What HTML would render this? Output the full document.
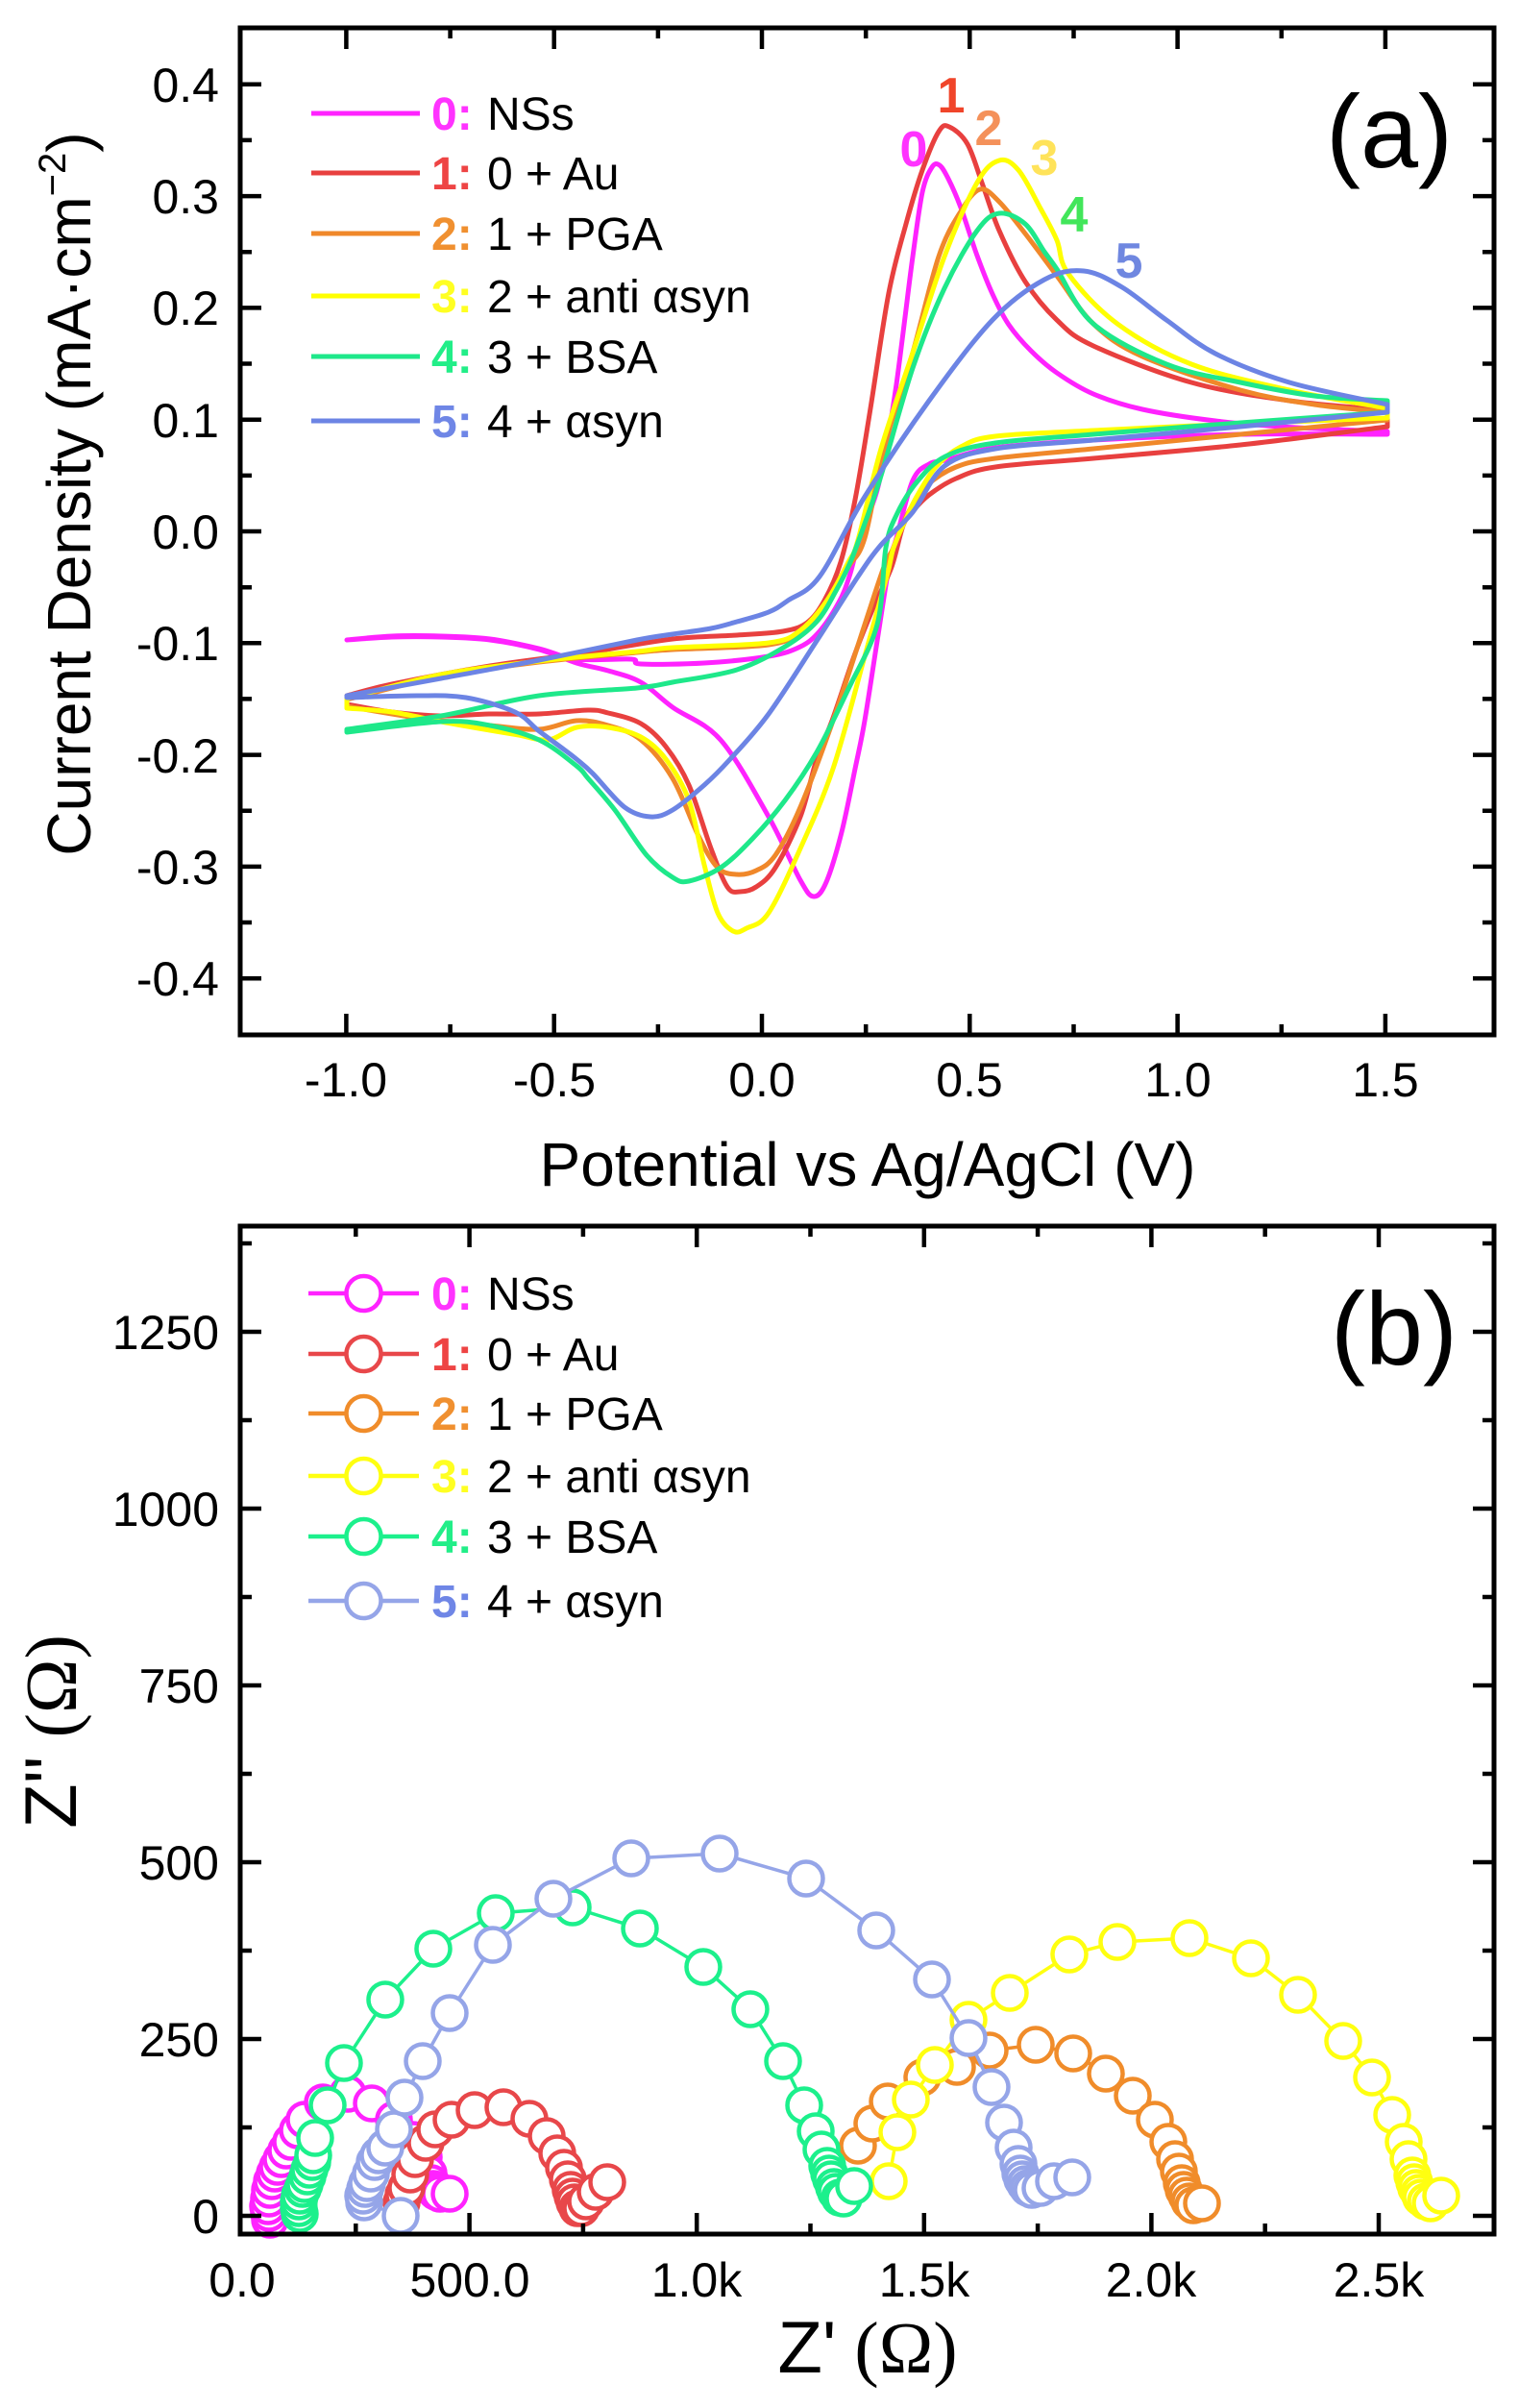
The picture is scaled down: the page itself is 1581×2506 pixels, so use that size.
<!DOCTYPE html>
<html><head><meta charset="utf-8"><style>
html,body{margin:0;padding:0;background:#fff;}
svg{display:block;}
text{font-family:"Liberation Sans",Arial,sans-serif;fill:#000;}
.tk{font-size:50px;}
.lg{font-size:48px;}
.lb{font-size:48px;font-weight:bold;}
.pk{font-size:52px;font-weight:bold;}
</style></head><body>
<svg id="fig" width="1581" height="2506" viewBox="0 0 1581 2506" xmlns="http://www.w3.org/2000/svg">
<rect width="1581" height="2506" fill="#fff"/>

<!-- ============ PANEL (a) ============ -->
<g fill="none" stroke-width="5" stroke-linejoin="round" stroke-linecap="round">
<!-- 0 magenta -->
<polyline class="sm" stroke="#ff22ff" points="361,666 408,662 459,662 510,665 561,675 600,686 657,686 667,691 733,690 800,683 833,673 853,657 873,627 884,600 895,560 913,510 925,450 933,400 942,330 950,267 960,200 970,174 978,172 987,186 1000,216 1017,266 1033,306 1050,338 1073,365 1100,388 1138,410 1189,426 1265,438 1350,445 1444,449 1444,452 1291,452 1138,458 1036,466 984,479 967,483 950,500 933,560 926,585 913,667 900,750 890,800 876,866 860,918 847,933 833,916 800,850 750,770 700,736 667,710 633,698 600,690 561,676 510,666 459,663 408,663 361,666"/>
<!-- 1 red -->
<polyline class="sm" stroke="#e8403f" points="361,724 408,712 510,693 612,679 700,665 767,661 815,657 840,648 858,625 875,585 890,520 906,425 925,305 943,233 960,177 977,137 988,132 1007,150 1023,193 1040,240 1067,293 1100,333 1138,360 1240,398 1342,417 1444,427 1444,444 1291,463 1138,477 1036,486 995,498 967,515 950,532 940,547 928,590 910,630 890,680 866,750 850,790 833,850 807,903 787,923 770,928 757,923 740,883 717,817 693,777 667,753 633,742 612,739 561,743 510,743 459,745 408,741 361,733 361,724"/>
<!-- 2 orange -->
<polyline class="sm" stroke="#f0882a" points="361,728 459,704 561,689 663,679 700,676 800,671 833,657 860,627 883,590 900,560 920,467 950,367 977,267 1000,220 1020,197 1040,210 1067,243 1100,287 1138,337 1189,371 1291,406 1368,421 1444,429 1444,437 1291,452 1138,467 1036,477 995,486 964,506 944,536 930,570 920,590 900,650 867,750 833,840 807,890 787,906 767,910 747,903 727,870 700,810 667,770 633,755 600,750 561,759 510,755 434,747 361,735 361,728"/>
<!-- 3 yellow -->
<polyline class="sm" stroke="#ffff00" points="361,727 459,702 561,688 663,678 700,674 800,669 833,656 860,626 883,585 893,562 917,467 950,367 983,267 1017,190 1040,167 1060,177 1083,217 1100,250 1112,285 1163,337 1240,379 1342,406 1444,425 1444,435 1291,441 1138,448 1036,454 1000,465 974,486 954,517 943,540 930,570 923,600 900,683 867,800 833,883 800,950 777,966 763,969 747,950 733,900 717,833 693,790 667,767 633,757 600,757 571,770 540,765 510,760 459,751 408,741 361,737 361,727"/>
<!-- 4 green -->
<polyline class="sm" stroke="#1ee88a" points="361,759 459,745 561,724 663,716 700,710 767,697 817,673 850,647 870,615 885,585 900,545 917,495 950,383 983,300 1017,240 1040,222 1067,233 1087,262 1100,280 1138,337 1214,379 1291,398 1368,412 1444,417 1444,429 1291,440 1138,452 1036,461 984,475 954,502 933,536 922,570 913,650 883,717 850,783 817,833 783,873 750,903 717,917 700,913 673,890 640,843 612,810 600,797 561,770 510,755 459,751 361,762 361,759"/>
<!-- 5 blue -->
<polyline class="sm" stroke="#6c84e4" points="361,724 459,706 561,687 663,666 700,660 740,654 767,647 800,637 820,625 853,600 900,517 967,417 1033,333 1087,291 1128,282 1168,299 1214,333 1265,368 1342,398 1444,421 1444,429 1291,444 1138,458 1036,467 983,485 950,533 917,567 893,600 850,667 800,743 760,790 733,817 700,843 677,850 650,840 617,805 600,790 587,780 560,760 536,741 485,726 434,724 361,726 361,724"/>
</g>

<!-- peak labels -->
<text class="pk" x="951" y="173" text-anchor="middle" style="fill:#ff33ff">0</text>
<text class="pk" x="990" y="117" text-anchor="middle" style="fill:#f0452a">1</text>
<text class="pk" x="1029" y="151" text-anchor="middle" style="fill:#f4915a">2</text>
<text class="pk" x="1087" y="182" text-anchor="middle" style="fill:#ffe35a">3</text>
<text class="pk" x="1118" y="241" text-anchor="middle" style="fill:#42e65a">4</text>
<text class="pk" x="1175" y="289" text-anchor="middle" style="fill:#6f87e0">5</text>

<!-- axes box a -->
<rect x="250" y="29" width="1305" height="1048" fill="none" stroke="#000" stroke-width="5"/>
<g stroke="#000" stroke-width="4.5">
<path d="M360.4,1077V1055M576.7,1077V1055M793,1077V1055M1009.3,1077V1055M1225.6,1077V1055M1441.9,1077V1055"/>
<path d="M360.4,29V51M576.7,29V51M793,29V51M1009.3,29V51M1225.6,29V51M1441.9,29V51"/>
<path d="M468.6,1077V1066M684.9,1077V1066M901.2,1077V1066M1117.5,1077V1066M1333.8,1077V1066"/>
<path d="M468.6,29V40M684.9,29V40M901.2,29V40M1117.5,29V40M1333.8,29V40"/>
<path d="M250,87.8H272M250,204.1H272M250,320.4H272M250,436.7H272M250,553H272M250,669.3H272M250,785.6H272M250,901.9H272M250,1018.2H272"/>
<path d="M1555,87.8H1533M1555,204.1H1533M1555,320.4H1533M1555,436.7H1533M1555,553H1533M1555,669.3H1533M1555,785.6H1533M1555,901.9H1533M1555,1018.2H1533"/>
<path d="M250,145.9H262M250,262.2H262M250,378.5H262M250,494.9H262M250,611.2H262M250,727.4H262M250,843.8H262M250,960H262"/>
<path d="M1555,145.9H1543M1555,262.2H1543M1555,378.5H1543M1555,494.9H1543M1555,611.2H1543M1555,727.4H1543M1555,843.8H1543M1555,960H1543"/>
</g>
<g text-anchor="end">
<text class="tk" x="228" y="106">0.4</text>
<text class="tk" x="228" y="222">0.3</text>
<text class="tk" x="228" y="338">0.2</text>
<text class="tk" x="228" y="455">0.1</text>
<text class="tk" x="228" y="571">0.0</text>
<text class="tk" x="228" y="687">-0.1</text>
<text class="tk" x="228" y="804">-0.2</text>
<text class="tk" x="228" y="920">-0.3</text>
<text class="tk" x="228" y="1036">-0.4</text>
</g>
<g text-anchor="middle">
<text class="tk" x="360" y="1141">-1.0</text>
<text class="tk" x="577" y="1141">-0.5</text>
<text class="tk" x="793" y="1141">0.0</text>
<text class="tk" x="1009" y="1141">0.5</text>
<text class="tk" x="1226" y="1141">1.0</text>
<text class="tk" x="1442" y="1141">1.5</text>
</g>
<text x="903" y="1234" text-anchor="middle" style="font-size:64px">Potential vs Ag/AgCl (V)</text>
<text transform="translate(94,514) rotate(-90)" text-anchor="middle" style="font-size:64px">Current Density (mA·cm<tspan dy="-26" style="font-size:40px">−2</tspan><tspan dy="26">)</tspan></text>
<text x="1380" y="174" style="font-size:108px">(a)</text>

<!-- legend a -->
<g stroke-width="5">
<line x1="324" y1="118" x2="437" y2="118" stroke="#ff22ff"/>
<line x1="324" y1="180" x2="437" y2="180" stroke="#e8403f"/>
<line x1="324" y1="243" x2="437" y2="243" stroke="#f0882a"/>
<line x1="324" y1="308" x2="437" y2="308" stroke="#ffff00"/>
<line x1="324" y1="371" x2="437" y2="371" stroke="#1ee88a"/>
<line x1="324" y1="438" x2="437" y2="438" stroke="#6c84e4"/>
</g>
<text class="lb" x="449" y="135" style="fill:#ff33ff">0:</text><text class="lg" x="507" y="135">NSs</text>
<text class="lb" x="449" y="197" style="fill:#ee4444">1:</text><text class="lg" x="507" y="197">0 + Au</text>
<text class="lb" x="449" y="260" style="fill:#f09030">2:</text><text class="lg" x="507" y="260">1 + PGA</text>
<text class="lb" x="449" y="325" style="fill:#ffff22">3:</text><text class="lg" x="507" y="325">2 + anti αsyn</text>
<text class="lb" x="449" y="388" style="fill:#22ee88">4:</text><text class="lg" x="507" y="388">3 + BSA</text>
<text class="lb" x="449" y="455" style="fill:#6f86e6">5:</text><text class="lg" x="507" y="455">4 + αsyn</text>

<!-- ============ PANEL (b) ============ -->
<g stroke="#ff22ff" stroke-width="4.5" fill="#fff">
<polyline fill="none" stroke-width="3.5" points="281,2310 280,2303 279,2296 280,2288 281,2279 283,2270 286,2262 289,2255 293,2247 298,2238 303,2229 310,2217 317,2206 336,2188 362,2179 387,2189 410,2206 430,2227 441,2245 446,2262 449,2272 451,2278 454,2281 458,2283 468,2283"/>
<circle cx="281" cy="2310" r="17.5"/><circle cx="280" cy="2303" r="17.5"/><circle cx="279" cy="2296" r="17.5"/><circle cx="280" cy="2288" r="17.5"/><circle cx="281" cy="2279" r="17.5"/><circle cx="283" cy="2270" r="17.5"/><circle cx="286" cy="2262" r="17.5"/><circle cx="289" cy="2255" r="17.5"/><circle cx="293" cy="2247" r="17.5"/><circle cx="298" cy="2238" r="17.5"/><circle cx="303" cy="2229" r="17.5"/><circle cx="310" cy="2217" r="17.5"/><circle cx="317" cy="2206" r="17.5"/><circle cx="336" cy="2188" r="17.5"/><circle cx="362" cy="2179" r="17.5"/><circle cx="387" cy="2189" r="17.5"/><circle cx="410" cy="2206" r="17.5"/><circle cx="430" cy="2227" r="17.5"/><circle cx="441" cy="2245" r="17.5"/><circle cx="446" cy="2262" r="17.5"/><circle cx="449" cy="2272" r="17.5"/><circle cx="451" cy="2278" r="17.5"/><circle cx="454" cy="2281" r="17.5"/><circle cx="458" cy="2283" r="17.5"/><circle cx="468" cy="2283" r="17.5"/>
</g>
<g stroke="#e8474a" stroke-width="4.5" fill="#fff">
<polyline fill="none" stroke-width="3.5" points="418,2292 420,2284 423,2277 427,2263 432,2247 443,2230 453,2216 470,2206 494,2196 524,2193 551,2205 569,2223 580,2241 587,2256 591,2268 594,2279 596,2286 598,2292 601,2298 605,2298 610,2291 620,2281 632,2271"/>
<circle cx="418" cy="2292" r="17.5"/><circle cx="420" cy="2284" r="17.5"/><circle cx="423" cy="2277" r="17.5"/><circle cx="427" cy="2263" r="17.5"/><circle cx="432" cy="2247" r="17.5"/><circle cx="443" cy="2230" r="17.5"/><circle cx="453" cy="2216" r="17.5"/><circle cx="470" cy="2206" r="17.5"/><circle cx="494" cy="2196" r="17.5"/><circle cx="524" cy="2193" r="17.5"/><circle cx="551" cy="2205" r="17.5"/><circle cx="569" cy="2223" r="17.5"/><circle cx="580" cy="2241" r="17.5"/><circle cx="587" cy="2256" r="17.5"/><circle cx="591" cy="2268" r="17.5"/><circle cx="594" cy="2279" r="17.5"/><circle cx="596" cy="2286" r="17.5"/><circle cx="598" cy="2292" r="17.5"/><circle cx="601" cy="2298" r="17.5"/><circle cx="605" cy="2298" r="17.5"/><circle cx="610" cy="2291" r="17.5"/><circle cx="620" cy="2281" r="17.5"/><circle cx="632" cy="2271" r="17.5"/>
</g>
<g stroke="#f08c2a" stroke-width="4.5" fill="#fff">
<polyline fill="none" stroke-width="3.5" points="893,2233 908,2210 924,2187 960,2162 996,2151 1030,2134 1078,2128 1117,2137 1151,2158 1179,2181 1202,2206 1216,2229 1223,2247 1227,2260 1230,2272 1232,2279 1235,2285 1238,2291 1242,2295 1251,2293"/>
<circle cx="893" cy="2233" r="17.5"/><circle cx="908" cy="2210" r="17.5"/><circle cx="924" cy="2187" r="17.5"/><circle cx="960" cy="2162" r="17.5"/><circle cx="996" cy="2151" r="17.5"/><circle cx="1030" cy="2134" r="17.5"/><circle cx="1078" cy="2128" r="17.5"/><circle cx="1117" cy="2137" r="17.5"/><circle cx="1151" cy="2158" r="17.5"/><circle cx="1179" cy="2181" r="17.5"/><circle cx="1202" cy="2206" r="17.5"/><circle cx="1216" cy="2229" r="17.5"/><circle cx="1223" cy="2247" r="17.5"/><circle cx="1227" cy="2260" r="17.5"/><circle cx="1230" cy="2272" r="17.5"/><circle cx="1232" cy="2279" r="17.5"/><circle cx="1235" cy="2285" r="17.5"/><circle cx="1238" cy="2291" r="17.5"/><circle cx="1242" cy="2295" r="17.5"/><circle cx="1251" cy="2293" r="17.5"/>
</g>
<g stroke="#ffff10" stroke-width="4.5" fill="#fff">
<polyline fill="none" stroke-width="3.5" points="925,2270 934,2219 948,2185 973,2149 1008,2102 1051,2074 1113,2034 1163,2021 1238,2017 1302,2038 1351,2076 1398,2124 1428,2162 1449,2201 1461,2229 1466,2247 1470,2264 1472,2271 1474,2277 1477,2282 1479,2287 1484,2291 1489,2293 1500,2285"/>
<circle cx="925" cy="2270" r="17.5"/><circle cx="934" cy="2219" r="17.5"/><circle cx="948" cy="2185" r="17.5"/><circle cx="973" cy="2149" r="17.5"/><circle cx="1008" cy="2102" r="17.5"/><circle cx="1051" cy="2074" r="17.5"/><circle cx="1113" cy="2034" r="17.5"/><circle cx="1163" cy="2021" r="17.5"/><circle cx="1238" cy="2017" r="17.5"/><circle cx="1302" cy="2038" r="17.5"/><circle cx="1351" cy="2076" r="17.5"/><circle cx="1398" cy="2124" r="17.5"/><circle cx="1428" cy="2162" r="17.5"/><circle cx="1449" cy="2201" r="17.5"/><circle cx="1461" cy="2229" r="17.5"/><circle cx="1466" cy="2247" r="17.5"/><circle cx="1470" cy="2264" r="17.5"/><circle cx="1472" cy="2271" r="17.5"/><circle cx="1474" cy="2277" r="17.5"/><circle cx="1477" cy="2282" r="17.5"/><circle cx="1479" cy="2287" r="17.5"/><circle cx="1484" cy="2291" r="17.5"/><circle cx="1489" cy="2293" r="17.5"/><circle cx="1500" cy="2285" r="17.5"/>
</g>
<g stroke="#1cf08c" stroke-width="4.5" fill="#fff">
<polyline fill="none" stroke-width="3.5" points="312,2304 311,2298 311,2291 312,2285 315,2278 317,2273 320,2265 322,2258 325,2250 326,2243 328,2225 341,2191 358,2147 401,2081 451,2028 516,1991 596,1985 666,2007 732,2047 781,2091 815,2145 837,2191 849,2218 855,2237 861,2254 863,2262 865,2268 868,2276 870,2281 874,2287 878,2288 889,2275"/>
<circle cx="312" cy="2304" r="17.5"/><circle cx="311" cy="2298" r="17.5"/><circle cx="311" cy="2291" r="17.5"/><circle cx="312" cy="2285" r="17.5"/><circle cx="315" cy="2278" r="17.5"/><circle cx="317" cy="2273" r="17.5"/><circle cx="320" cy="2265" r="17.5"/><circle cx="322" cy="2258" r="17.5"/><circle cx="325" cy="2250" r="17.5"/><circle cx="326" cy="2243" r="17.5"/><circle cx="328" cy="2225" r="17.5"/><circle cx="341" cy="2191" r="17.5"/><circle cx="358" cy="2147" r="17.5"/><circle cx="401" cy="2081" r="17.5"/><circle cx="451" cy="2028" r="17.5"/><circle cx="516" cy="1991" r="17.5"/><circle cx="596" cy="1985" r="17.5"/><circle cx="666" cy="2007" r="17.5"/><circle cx="732" cy="2047" r="17.5"/><circle cx="781" cy="2091" r="17.5"/><circle cx="815" cy="2145" r="17.5"/><circle cx="837" cy="2191" r="17.5"/><circle cx="849" cy="2218" r="17.5"/><circle cx="855" cy="2237" r="17.5"/><circle cx="861" cy="2254" r="17.5"/><circle cx="863" cy="2262" r="17.5"/><circle cx="865" cy="2268" r="17.5"/><circle cx="868" cy="2276" r="17.5"/><circle cx="870" cy="2281" r="17.5"/><circle cx="874" cy="2287" r="17.5"/><circle cx="878" cy="2288" r="17.5"/><circle cx="889" cy="2275" r="17.5"/>
</g>
<g stroke="#95a5e8" stroke-width="4.5" fill="#fff">
<polyline fill="none" stroke-width="3.5" points="417,2306 379,2292 378,2285 380,2278 382,2272 386,2262 390,2250 394,2243 401,2235 410,2216 421,2183 440,2145 468,2095 513,2024 576,1976 657,1934 749,1929 839,1955 912,2009 970,2060 1008,2121 1032,2172 1045,2209 1055,2235 1060,2252 1062,2262 1064,2268 1067,2273 1070,2277 1074,2279 1083,2277 1097,2270 1116,2266"/>
<circle cx="417" cy="2306" r="17.5"/><circle cx="379" cy="2292" r="17.5"/><circle cx="378" cy="2285" r="17.5"/><circle cx="380" cy="2278" r="17.5"/><circle cx="382" cy="2272" r="17.5"/><circle cx="386" cy="2262" r="17.5"/><circle cx="390" cy="2250" r="17.5"/><circle cx="394" cy="2243" r="17.5"/><circle cx="401" cy="2235" r="17.5"/><circle cx="410" cy="2216" r="17.5"/><circle cx="421" cy="2183" r="17.5"/><circle cx="440" cy="2145" r="17.5"/><circle cx="468" cy="2095" r="17.5"/><circle cx="513" cy="2024" r="17.5"/><circle cx="576" cy="1976" r="17.5"/><circle cx="657" cy="1934" r="17.5"/><circle cx="749" cy="1929" r="17.5"/><circle cx="839" cy="1955" r="17.5"/><circle cx="912" cy="2009" r="17.5"/><circle cx="970" cy="2060" r="17.5"/><circle cx="1008" cy="2121" r="17.5"/><circle cx="1032" cy="2172" r="17.5"/><circle cx="1045" cy="2209" r="17.5"/><circle cx="1055" cy="2235" r="17.5"/><circle cx="1060" cy="2252" r="17.5"/><circle cx="1062" cy="2262" r="17.5"/><circle cx="1064" cy="2268" r="17.5"/><circle cx="1067" cy="2273" r="17.5"/><circle cx="1070" cy="2277" r="17.5"/><circle cx="1074" cy="2279" r="17.5"/><circle cx="1083" cy="2277" r="17.5"/><circle cx="1097" cy="2270" r="17.5"/><circle cx="1116" cy="2266" r="17.5"/>
</g>

<!-- axes box b -->
<rect x="250" y="1276" width="1305" height="1049" fill="none" stroke="#000" stroke-width="5"/>
<g stroke="#000" stroke-width="4.5">
<path d="M488.6,2325V2303M725.2,2325V2303M961.8,2325V2303M1198.4,2325V2303M1435,2325V2303"/>
<path d="M488.6,1276V1298M725.2,1276V1298M961.8,1276V1298M1198.4,1276V1298M1435,1276V1298"/>
<path d="M370.3,2325V2314M606.9,2325V2314M843.5,2325V2314M1080.1,2325V2314M1316.7,2325V2314"/>
<path d="M370.3,1276V1287M606.9,1276V1287M843.5,1276V1287M1080.1,1276V1287M1316.7,1276V1287"/>
<path d="M250,2306H272M250,2122H272M250,1938H272M250,1754H272M250,1570H272M250,1386H272"/>
<path d="M1555,2306H1533M1555,2122H1533M1555,1938H1533M1555,1754H1533M1555,1570H1533M1555,1386H1533"/>
<path d="M250,2214H262M250,2030H262M250,1846H262M250,1662H262M250,1478H262M250,1294H262"/>
<path d="M1555,2214H1543M1555,2030H1543M1555,1846H1543M1555,1662H1543M1555,1478H1543M1555,1294H1543"/>
</g>
<g text-anchor="end">
<text class="tk" x="228" y="2324">0</text>
<text class="tk" x="228" y="2140">250</text>
<text class="tk" x="228" y="1956">500</text>
<text class="tk" x="228" y="1772">750</text>
<text class="tk" x="228" y="1588">1000</text>
<text class="tk" x="228" y="1404">1250</text>
</g>
<g text-anchor="middle">
<text class="tk" x="252" y="2390">0.0</text>
<text class="tk" x="489" y="2390">500.0</text>
<text class="tk" x="725" y="2390">1.0k</text>
<text class="tk" x="962" y="2390">1.5k</text>
<text class="tk" x="1198" y="2390">2.0k</text>
<text class="tk" x="1435" y="2390">2.5k</text>
</g>
<text x="903" y="2469" text-anchor="middle" style="font-size:76px">Z'<tspan style="font-family:'Liberation Serif',serif"> (Ω)</tspan></text>
<text transform="translate(79,1802) rotate(-90)" text-anchor="middle" style="font-size:76px">Z''<tspan style="font-family:'Liberation Serif',serif"> (Ω)</tspan></text>
<text x="1385" y="1420" style="font-size:108px">(b)</text>

<!-- legend b -->
<g stroke-width="4.5" fill="#fff">
<line x1="321" y1="1346" x2="436" y2="1346" stroke="#ff22ff"/><circle cx="378.5" cy="1346" r="18" stroke="#ff22ff"/>
<line x1="321" y1="1409" x2="436" y2="1409" stroke="#e8474a"/><circle cx="378.5" cy="1409" r="18" stroke="#e8474a"/>
<line x1="321" y1="1471" x2="436" y2="1471" stroke="#f08c2a"/><circle cx="378.5" cy="1471" r="18" stroke="#f08c2a"/>
<line x1="321" y1="1536" x2="436" y2="1536" stroke="#ffff10"/><circle cx="378.5" cy="1536" r="18" stroke="#ffff10"/>
<line x1="321" y1="1599" x2="436" y2="1599" stroke="#1cf08c"/><circle cx="378.5" cy="1599" r="18" stroke="#1cf08c"/>
<line x1="321" y1="1666" x2="436" y2="1666" stroke="#95a5e8"/><circle cx="378.5" cy="1666" r="18" stroke="#95a5e8"/>
</g>
<text class="lb" x="449" y="1363" style="fill:#ff33ff">0:</text><text class="lg" x="507" y="1363">NSs</text>
<text class="lb" x="449" y="1426" style="fill:#ee4444">1:</text><text class="lg" x="507" y="1426">0 + Au</text>
<text class="lb" x="449" y="1488" style="fill:#f09030">2:</text><text class="lg" x="507" y="1488">1 + PGA</text>
<text class="lb" x="449" y="1553" style="fill:#ffff22">3:</text><text class="lg" x="507" y="1553">2 + anti αsyn</text>
<text class="lb" x="449" y="1616" style="fill:#22ee88">4:</text><text class="lg" x="507" y="1616">3 + BSA</text>
<text class="lb" x="449" y="1683" style="fill:#6f86e6">5:</text><text class="lg" x="507" y="1683">4 + αsyn</text>
</svg>
<script>
(function(){
  var NS='http://www.w3.org/2000/svg';
  function isBreak(a,b){return Math.abs(a[0]-b[0])<0.5 && (a[0]>1400 || a[0]<370);}
  var pls=document.querySelectorAll('polyline.sm');
  for(var k=0;k<pls.length;k++){
    var pl=pls[k];
    var raw=pl.getAttribute('points').trim().split(/\s+/);
    var p=[];
    for(var j=0;j<raw.length;j++){var a=raw[j].split(',');p.push([+a[0],+a[1]]);}
    var n=p.length,t=1/6;
    var d='M'+p[0][0]+','+p[0][1];
    for(var i=0;i<n-1;i++){
      var p1=p[i],p2=p[i+1];
      if(isBreak(p1,p2)){d+=' L'+p2[0]+','+p2[1];continue;}
      var p0=(i>0 && !isBreak(p[i-1],p1))?p[i-1]:p1;
      var p3=(i+2<n && !isBreak(p2,p[i+2]))?p[i+2]:p2;
      var c1x=p1[0]+(p2[0]-p0[0])*t,c1y=p1[1]+(p2[1]-p0[1])*t;
      var c2x=p2[0]-(p3[0]-p1[0])*t,c2y=p2[1]-(p3[1]-p1[1])*t;
      d+=' C'+c1x.toFixed(1)+','+c1y.toFixed(1)+' '+c2x.toFixed(1)+','+c2y.toFixed(1)+' '+p2[0]+','+p2[1];
    }
    var path=document.createElementNS(NS,'path');
    path.setAttribute('d',d);
    path.setAttribute('stroke',pl.getAttribute('stroke'));
    path.setAttribute('fill','none');
    pl.parentNode.replaceChild(path,pl);
  }
})();
</script>
</body></html>
